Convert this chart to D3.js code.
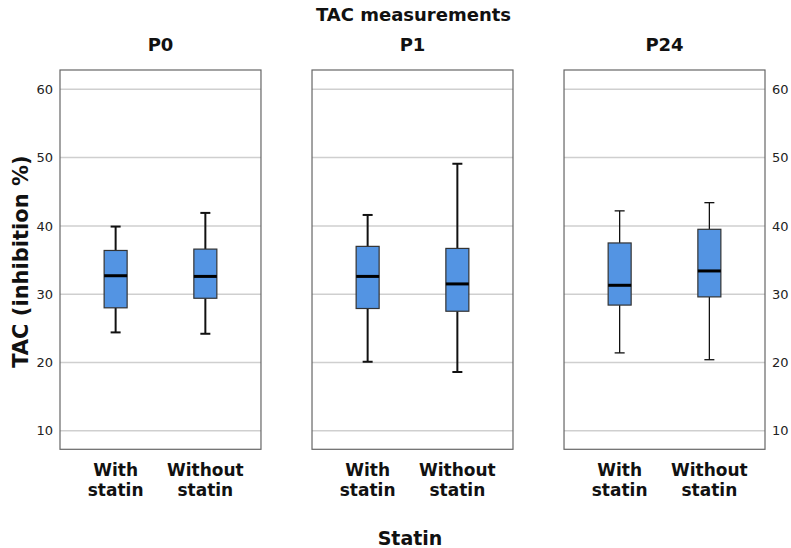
<!DOCTYPE html>
<html>
<head>
<meta charset="utf-8">
<script src="https://cdn.jsdelivr.net/npm/d3@7"></script>
<style>
  body { margin: 0; background: #fff; }
  text { fill: #111; }
  .tick-label { font-family: "DejaVu Sans", Verdana, sans-serif; font-size: 13px; fill: #222; }
  .cat-label { font-family: "DejaVu Sans", Verdana, sans-serif; font-weight: bold; font-size: 17px; }
  .title { font-family: "DejaVu Sans", Verdana, sans-serif; font-weight: bold; font-size: 18px; }
  .axis-title { font-family: "DejaVu Sans", Verdana, sans-serif; font-weight: bold; }
</style>
</head>
<body>
<div id="chart"></div>
<script>
// data
const panels = ['P0', 'P1', 'P24'];
const groups = ['With statin', 'Without statin'];
const yTicks = [10, 20, 30, 40, 50, 60];
// [low whisker, q1, median, q3, high whisker] per panel, per group
const withStatin = [
    [24.4, 28.0, 32.7, 36.4, 39.9],
    [20.1, 27.9, 32.6, 37.0, 41.6],
    [21.4, 28.4, 31.3, 37.5, 42.2]
];
const withoutStatin = [
    [24.2, 29.4, 32.6, 36.6, 41.9],
    [18.6, 27.5, 31.5, 36.7, 49.1],
    [20.4, 29.6, 33.4, 39.5, 43.4]
];

const width = 791, height = 548;
const plotLeft = 60, plotRight = 765, plotTop = 70, plotBottom = 449.3;

const svg = d3.select('#chart').append('svg')
    .attr('width', width).attr('height', height);

const panelScale = d3.scaleBand().domain(panels)
    .range([plotLeft, plotRight]).paddingInner(0.2025).paddingOuter(0);
const groupScale = d3.scalePoint().domain(groups)
    .range([0, panelScale.bandwidth()]).padding(0.62);
const y = d3.scaleLinear().domain([7.28, 62.83]).range([plotBottom, plotTop]);

const boxWidth = 23, capWidth = 10;

// titles
svg.append('text').classed('title', true)
    .attr('x', (plotLeft + plotRight) / 2 + 1).attr('y', 21)
    .attr('text-anchor', 'middle').text('TAC measurements');

svg.append('text').classed('axis-title', true)
    .style('font-size', '21px')
    .attr('transform', `translate(28,${(plotTop + plotBottom) / 2 + 2}) rotate(-90)`)
    .attr('text-anchor', 'middle').text('TAC (inhibition %)');

svg.append('text').classed('axis-title', true)
    .style('font-size', '19px')
    .attr('x', 410).attr('y', 545)
    .attr('text-anchor', 'middle').text('Statin');

// left and right tick labels
yTicks.forEach(t => {
    svg.append('text').classed('tick-label', true)
        .attr('x', 53).attr('y', y(t)).attr('dy', '0.36em')
        .attr('text-anchor', 'end').text(t);
    svg.append('text').classed('tick-label', true)
        .attr('x', 772).attr('y', y(t)).attr('dy', '0.36em')
        .attr('text-anchor', 'start').text(t);
});

panels.forEach((p, i) => {
    const x0 = panelScale(p);
    const g = svg.append('g').attr('transform', `translate(${x0},0)`);

    g.append('text').classed('title', true)
        .attr('x', panelScale.bandwidth() / 2).attr('y', 51)
        .attr('text-anchor', 'middle').text(p);

    // gridlines
    g.selectAll('line.grid').data(yTicks).join('line').classed('grid', true)
        .attr('x1', 0).attr('x2', panelScale.bandwidth())
        .attr('y1', d => y(d)).attr('y2', d => y(d))
        .attr('stroke', '#cfcfcf').attr('stroke-width', 1.5);

    // frame
    g.append('rect')
        .attr('x', 0).attr('y', plotTop)
        .attr('width', panelScale.bandwidth()).attr('height', plotBottom - plotTop)
        .attr('fill', 'none').attr('stroke', '#666').attr('stroke-width', 1.2);

    const stats = [withStatin[i], withoutStatin[i]];
    const sw = i === 2 ? 1.3 : 2;
    groups.forEach((grp, j) => {
        const [lo, q1, med, q3, hi] = stats[j];
        const cx = groupScale(grp);
        const b = g.append('g');
        b.append('line').attr('x1', cx).attr('x2', cx).attr('y1', y(hi)).attr('y2', y(q3))
            .attr('stroke', '#111').attr('stroke-width', sw);
        b.append('line').attr('x1', cx).attr('x2', cx).attr('y1', y(q1)).attr('y2', y(lo))
            .attr('stroke', '#111').attr('stroke-width', sw);
        b.append('line').attr('x1', cx - capWidth / 2).attr('x2', cx + capWidth / 2)
            .attr('y1', y(hi)).attr('y2', y(hi)).attr('stroke', '#111').attr('stroke-width', sw);
        b.append('line').attr('x1', cx - capWidth / 2).attr('x2', cx + capWidth / 2)
            .attr('y1', y(lo)).attr('y2', y(lo)).attr('stroke', '#111').attr('stroke-width', sw);
        b.append('rect')
            .attr('x', cx - boxWidth / 2).attr('y', y(q3))
            .attr('width', boxWidth).attr('height', y(q1) - y(q3))
            .attr('fill', '#5394e3').attr('stroke', '#333').attr('stroke-width', 1.2);
        b.append('line').attr('x1', cx - boxWidth / 2).attr('x2', cx + boxWidth / 2)
            .attr('y1', y(med)).attr('y2', y(med)).attr('stroke', '#000').attr('stroke-width', 3);

        // category label on two lines
        const words = grp.split(' ');
        const t = g.append('text').classed('cat-label', true)
            .attr('text-anchor', 'middle');
        words.forEach((w, k) => {
            t.append('tspan').attr('x', cx).attr('y', 476 + k * 20).text(w);
        });
    });
});
</script>
</body>
</html>
